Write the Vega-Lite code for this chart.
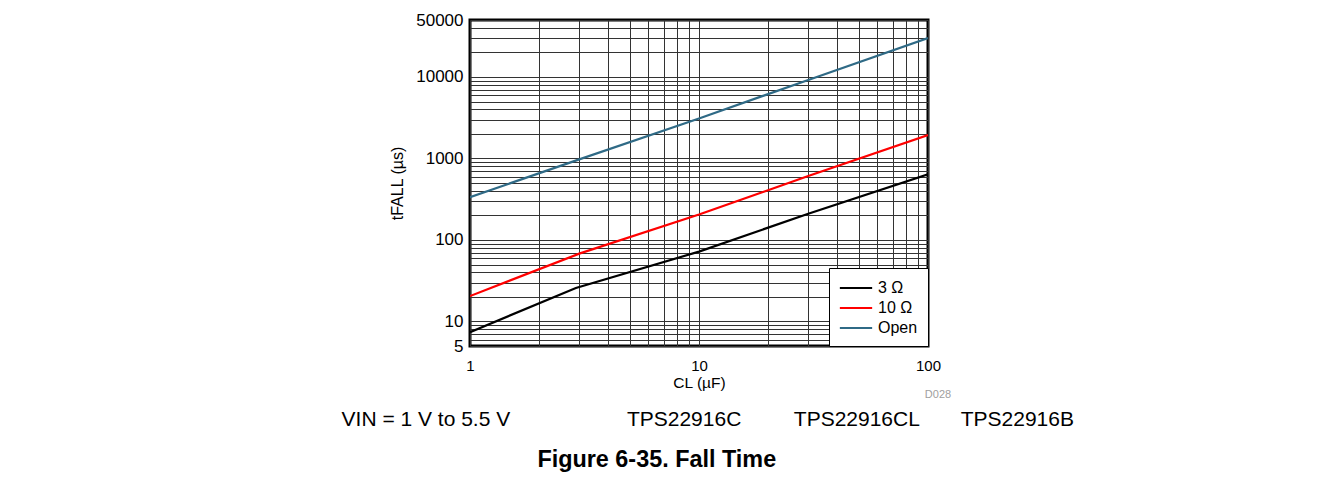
{
  "$schema": "https://vega.github.io/schema/vega-lite/v6.json",
  "width": 458,
  "height": 326,
  "autosize": {"type": "none"},
  "padding": {"left": 470, "top": 20, "right": 404, "bottom": 134},
  "background": "white",
  "config": {
    "font": "Liberation Sans",
    "view": {"stroke": "black", "strokeWidth": 3}
  },
  "title": {
    "text": "\u200b\u00a0\u00a0\u00a0VIN = 1 V to 5.5 V\u00a0\u00a0\u00a0\u00a0\u00a0\u00a0\u00a0\u00a0\u00a0\u00a0\u00a0\u00a0\u00a0\u00a0\u00a0\u00a0\u00a0\u00a0\u00a0\u00a0TPS22916C\u00a0\u00a0\u00a0\u00a0\u00a0\u00a0\u00a0\u00a0\u00a0TPS22916CL\u00a0\u00a0\u00a0\u00a0\u00a0\u00a0\u00a0TPS22916B",
    "subtitle": "Figure 6-35. Fall Time\u00a0\u00a0\u00a0\u00a0\u00a0\u00a0\u00a0\u00a0\u00a0\u00a0\u00a0\u00a0\u00a0\u200b",
    "orient": "bottom",
    "anchor": "middle",
    "frame": "group",
    "fontSize": 21,
    "fontWeight": "normal",
    "color": "black",
    "subtitleFontSize": 23.4,
    "subtitleFontWeight": "bold",
    "subtitleColor": "black",
    "subtitlePadding": 19,
    "offset": 9
  },
  "layer": [
    {
      "data": {
        "values": [
          {"C": 1, "t": 7.4, "series": "3 Ω"},
          {"C": 2.9, "t": 25.7, "series": "3 Ω"},
          {"C": 10, "t": 72, "series": "3 Ω"},
          {"C": 30, "t": 210, "series": "3 Ω"},
          {"C": 100, "t": 640, "series": "3 Ω"},
          {"C": 1, "t": 20.5, "series": "10 Ω"},
          {"C": 3, "t": 68, "series": "10 Ω"},
          {"C": 10, "t": 205, "series": "10 Ω"},
          {"C": 30, "t": 610, "series": "10 Ω"},
          {"C": 100, "t": 1940, "series": "10 Ω"},
          {"C": 1, "t": 335, "series": "Open"},
          {"C": 3, "t": 975, "series": "Open"},
          {"C": 10, "t": 3100, "series": "Open"},
          {"C": 30, "t": 9200, "series": "Open"},
          {"C": 100, "t": 30000, "series": "Open"}
        ]
      },
      "mark": {"type": "line", "strokeWidth": 2.2, "clip": true},
      "encoding": {
        "x": {
          "field": "C",
          "type": "quantitative",
          "scale": {"type": "log", "domain": [1, 100], "nice": false},
          "axis": {
            "values": [1, 2, 3, 4, 5, 6, 7, 8, 9, 10, 20, 30, 40, 50, 60, 70, 80, 90, 100],
            "format": "d",
            "labelExpr": "datum.value == 1 || datum.value == 10 || datum.value == 100 ? datum.label : ''",
            "title": "CL (µF)",
            "grid": true,
            "gridColor": "#333333",
            "gridOpacity": 1,
            "gridWidth": 1,
            "ticks": false,
            "tickSize": 0,
            "domain": false,
            "labelFontSize": 15,
            "labelColor": "black",
            "labelPadding": 12,
            "labelOverlap": false,
            "labelFlush": false,
            "titleFontSize": 15.5,
            "titleFontWeight": "normal",
            "titleColor": "black",
            "titlePadding": 2
          }
        },
        "y": {
          "field": "t",
          "type": "quantitative",
          "scale": {"type": "log", "domain": [5, 50000], "nice": false},
          "axis": {
            "values": [5, 6, 7, 8, 9, 10, 20, 30, 40, 50, 60, 70, 80, 90, 100, 200, 300, 400, 500, 600, 700, 800, 900, 1000, 2000, 3000, 4000, 5000, 6000, 7000, 8000, 9000, 10000, 20000, 30000, 40000, 50000],
            "format": "d",
            "labelExpr": "indexof([5, 10, 100, 1000, 10000, 50000], datum.value) >= 0 ? datum.label : ''",
            "title": "tFALL (µs)",
            "grid": true,
            "gridColor": "#333333",
            "gridOpacity": 1,
            "gridWidth": 1,
            "ticks": false,
            "tickSize": 0,
            "domain": false,
            "labelFontSize": 17,
            "labelColor": "black",
            "labelPadding": 7,
            "labelOverlap": false,
            "labelFlush": false,
            "titleFontSize": 16,
            "titleFontWeight": "normal",
            "titleColor": "black",
            "titlePadding": 10
          }
        },
        "color": {
          "field": "series",
          "type": "nominal",
          "sort": ["3 Ω", "10 Ω", "Open"],
          "scale": {"domain": ["3 Ω", "10 Ω", "Open"], "range": ["#000000", "#ff0000", "#2f6a86"]},
          "legend": {
            "orient": "bottom-right",
            "offset": 0,
            "title": null,
            "symbolType": "M-1.9,0L1.9,0",
            "symbolSize": 289,
            "symbolStrokeWidth": 2.2,
            "symbolOffset": 7,
            "labelOffset": 12,
            "labelFontSize": 16,
            "labelColor": "black",
            "strokeColor": "black",
            "fillColor": "white",
            "padding": 10,
            "rowPadding": 2
          }
        }
      }
    },
    {
      "data": {"values": [{"label": "D028"}]},
      "mark": {"type": "text", "color": "#a0a0a0", "fontSize": 11, "dx": 10, "dy": 49, "align": "center"},
      "encoding": {
        "x": {"datum": 100},
        "y": {"datum": 5},
        "text": {"field": "label", "type": "nominal"}
      }
    }
  ]
}
